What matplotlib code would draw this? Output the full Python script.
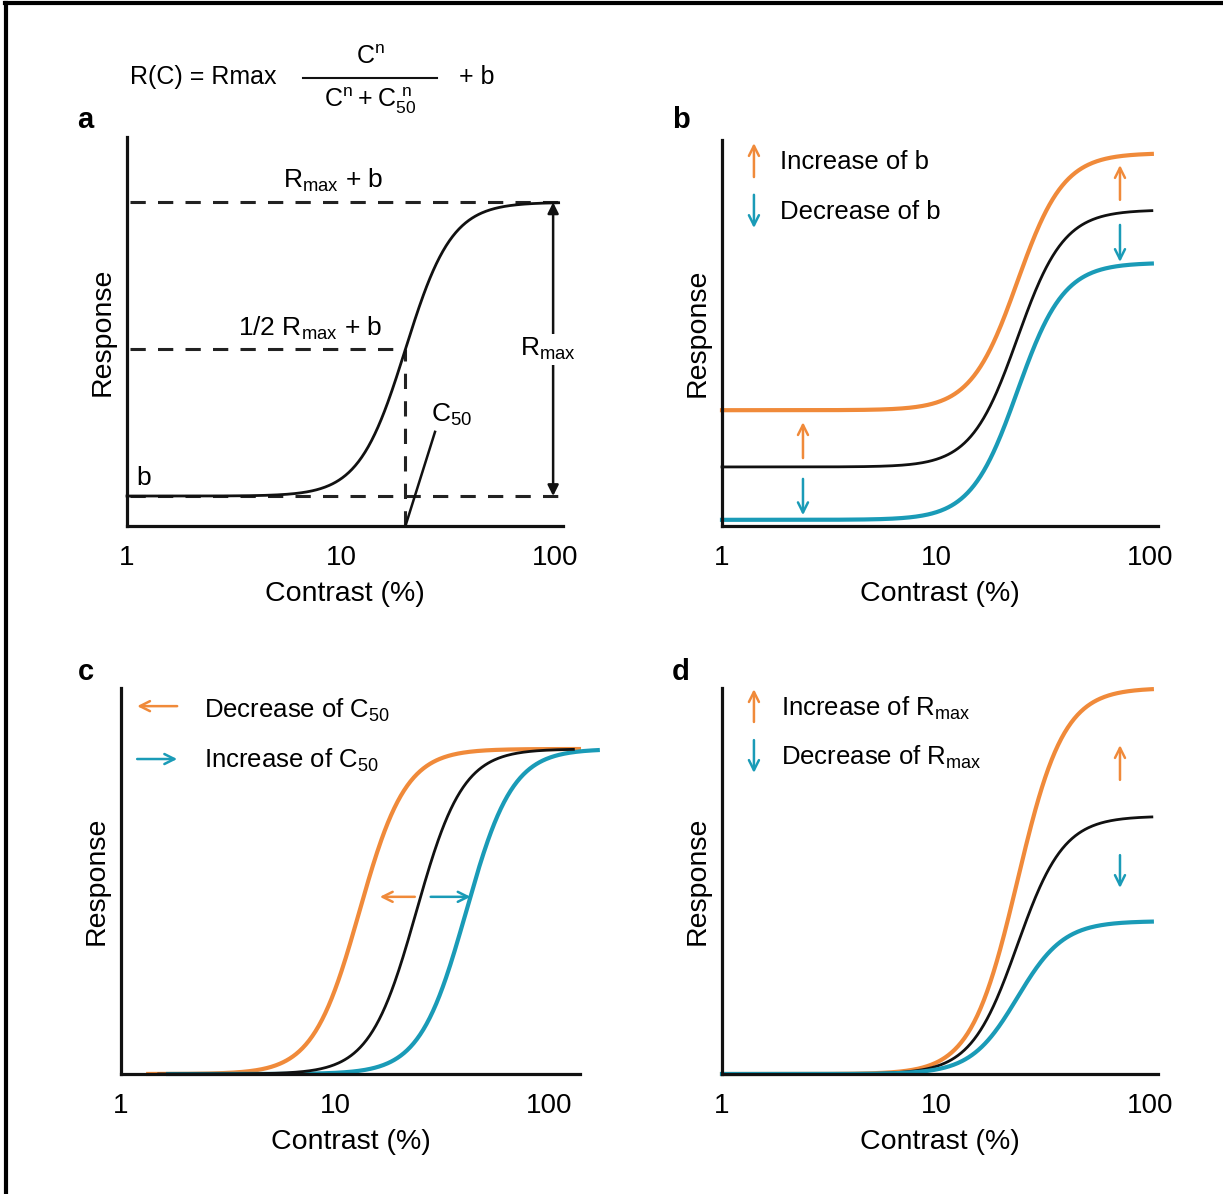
import numpy as np
import matplotlib
matplotlib.use("Agg")
import matplotlib.pyplot as plt
from matplotlib.lines import Line2D

plt.rcParams.update({
    "font.family": ["Liberation Sans", "DejaVu Sans"],
    "mathtext.fontset": "custom", "mathtext.rm": "Liberation Sans",
    "font.size": 18,
})

# ---- values (Naka-Rushton parameters) ----
n_exp = 4
# a: single curve
a_b, a_rmax, a_c50 = 0.077, 0.755, 20.0
a_range = (1.0, 104.0)
# b: baseline changes (increase, control, decrease)
b_base = [0.300, 0.153, 0.016]
b_rmax, b_c50 = 0.666, 24.0
b_range = (1.0, 102.0)
# c: C50 changes (decrease, control, increase)
c_c50 = [13.0, 24.0, 41.0]
c_rmax = 0.842
c_ranges = [(1.34, 138.0), (1.5, 130.0), (1.66, 169.0)]
# d: Rmax changes (increase, control, decrease)
d_rmax = [1.0, 0.668, 0.396]
d_c50 = 24.0
d_range = (1.0, 102.0)

ticks = [1, 10, 100]
tick_labels = ["1", "10", "100"]

ORANGE, CYAN, INK = "#F08A3A", "#1A9BB7", "#111111"
W, H = 1223, 1194
PX_DEC = 214.0  # pixels per decade


def nr(c, rmax, c50, b):
    return rmax * c**n_exp / (c**n_exp + c50**n_exp) + b


def curve(lo, hi):
    return np.logspace(np.log10(lo), np.log10(hi), 400)


fig = plt.figure(figsize=(W / 100, H / 100), dpi=100)


def make_axes(l, t, r, b):
    ax = fig.add_axes([l / W, 1 - b / H, (r - l) / W, (b - t) / H])
    ax.set_xscale("log")
    ax.set_xlim(1, 10 ** ((r - l) / PX_DEC))
    ax.set_ylim(0, 1)
    ax.set_xticks(ticks)
    ax.set_xticklabels(tick_labels)
    ax.xaxis.set_minor_locator(matplotlib.ticker.NullLocator())
    ax.set_yticks([])
    ax.tick_params(axis="x", length=0, pad=14, labelsize=20)
    for side in ["top", "right"]:
        ax.spines[side].set_visible(False)
    for side in ["left", "bottom"]:
        ax.spines[side].set_linewidth(2.3)
        ax.spines[side].set_color(INK)
    ax.set_xlabel("Contrast (%)", fontsize=20.5, labelpad=7)
    ax.set_ylabel("Response", fontsize=20.5, labelpad=8)
    ax.patch.set_alpha(0)
    return ax


def fx(x):
    return x / W


def fy(y):
    return 1 - y / H


def arrow(ax, tail, tip, color, style="->", lw=1.8, ms=18):
    ax.annotate("", xy=tip, xytext=tail,
                arrowprops=dict(arrowstyle=style, color=color, lw=lw,
                                mutation_scale=ms, shrinkA=0, shrinkB=0))


# ---- panel a ----
ax = make_axes(127, 137, 563, 526)
x = curve(*a_range)
ax.plot(x, nr(x, a_rmax, a_c50, a_b), color=INK, lw=2.0, clip_on=False, zorder=3)
dash = dict(color="#222222", lw=2.2, dashes=(5, 4), zorder=2, clip_on=False)
ax.plot([1.03, 105.5], [a_b + a_rmax] * 2, **dash)
ax.plot([1.03, a_c50], [a_b + a_rmax / 2] * 2, **dash)
ax.plot([1.03, 105.5], [a_b] * 2, **dash)
ax.plot([a_c50, a_c50], [0, a_b + a_rmax / 2], **dash)
ax.plot([a_c50, 27.5], [0, 0.242], color=INK, lw=1.8)
arrow(ax, (98, a_b), (98, a_b + a_rmax), INK, style="<|-|>", lw=1.8, ms=16)
ax.text(9.2, 0.889, r"R$_{\mathregular{max}}$ + b", ha="center", va="center", fontsize=19)
ax.text(7.2, 0.509, r"1/2 R$_{\mathregular{max}}$ + b", ha="center", va="center", fontsize=19)
ax.text(1.19, 0.123, "b", ha="center", va="center", fontsize=19)
ax.text(33, 0.285, r"C$_{\mathregular{50}}$", ha="center", va="center", fontsize=19)
ax.text(93, a_b + a_rmax / 2, r"R$_{\mathregular{max}}$", ha="center", va="center",
        fontsize=19, bbox=dict(facecolor="white", edgecolor="none", pad=1.5), zorder=5)

# formula above panel a
fig.text(fx(130), fy(77), "R(C) = Rmax", ha="left", va="center", fontsize=18)
fig.add_artist(Line2D([fx(303), fx(437)], [fy(78), fy(78)], color=INK, lw=1.5))
fig.text(fx(370), fy(57), r"$\mathregular{C^n}$", ha="center", va="center", fontsize=18)
fig.text(fx(370), fy(101), r"$\mathregular{C^n + C_{50}^{\ n}}$", ha="center",
         va="center", fontsize=18)
fig.text(fx(459), fy(77), "+ b", ha="left", va="center", fontsize=18)

# ---- panel b ----
ax = make_axes(722, 140, 1158, 526)
x = curve(*b_range)
for base, col, lw in zip(b_base, [ORANGE, INK, CYAN], [3.0, 2.0, 3.0]):
    ax.plot(x, nr(x, b_rmax, b_c50, base), color=col, lw=lw, clip_on=False)
arrow(ax, (72.4, 0.845), (72.4, 0.935), ORANGE)
arrow(ax, (72.4, 0.780), (72.4, 0.684), CYAN)
arrow(ax, (2.39, 0.176), (2.39, 0.269), ORANGE)
arrow(ax, (2.39, 0.122), (2.39, 0.028), CYAN)
arrow(ax, (1.41, 0.904), (1.41, 0.992), ORANGE)
arrow(ax, (1.41, 0.858), (1.41, 0.772), CYAN)
ax.text(1.87, 0.943, "Increase of b", ha="left", va="center", fontsize=18.5)
ax.text(1.87, 0.813, "Decrease of b", ha="left", va="center", fontsize=18.5)

# ---- panel c ----
ax = make_axes(121, 688, 580, 1074)
for c50, (lo, hi), col, lw in zip(c_c50, c_ranges, [ORANGE, INK, CYAN], [3.0, 2.0, 3.0]):
    x = curve(lo, hi)
    ax.plot(x, nr(x, c_rmax, c50, 0.0), color=col, lw=lw, clip_on=False,
            zorder=3 if col == INK else 2)
arrow(ax, (23.6, 0.459), (16.2, 0.459), ORANGE)
arrow(ax, (28.0, 0.459), (43.0, 0.459), CYAN)
arrow(ax, (1.83, 0.953), (1.19, 0.953), ORANGE)
arrow(ax, (1.19, 0.816), (1.83, 0.816), CYAN)
ax.text(2.44, 0.943, r"Decrease of C$_{\mathregular{50}}$", ha="left", va="center",
        fontsize=18.5)
ax.text(2.44, 0.814, r"Increase of C$_{\mathregular{50}}$", ha="left", va="center",
        fontsize=18.5)

# ---- panel d ----
ax = make_axes(722, 688, 1158, 1074)
x = curve(*d_range)
for rmax, col, lw in zip(d_rmax, [ORANGE, INK, CYAN], [3.0, 2.0, 3.0]):
    ax.plot(x, nr(x, rmax, d_c50, 0.0), color=col, lw=lw, clip_on=False)
arrow(ax, (72.4, 0.762), (72.4, 0.852), ORANGE)
arrow(ax, (72.4, 0.567), (72.4, 0.482), CYAN)
arrow(ax, (1.41, 0.912), (1.41, 0.997), ORANGE)
arrow(ax, (1.41, 0.865), (1.41, 0.780), CYAN)
ax.text(1.89, 0.948, r"Increase of R$_{\mathregular{max}}$", ha="left", va="center",
        fontsize=18.5)
ax.text(1.89, 0.821, r"Decrease of R$_{\mathregular{max}}$", ha="left", va="center",
        fontsize=18.5)

# panel letters
for lab, (px, py) in zip("abcd", [(85, 120), (681, 120), (86, 672), (681, 672)]):
    fig.text(fx(px), fy(py), lab, ha="center", va="center", fontsize=21,
             fontweight="bold")

# outer frame (top and left edges visible)
fig.add_artist(Line2D([fx(5), fx(W)], [fy(3), fy(3)], color="black", lw=3))
fig.add_artist(Line2D([fx(6), fx(6)], [fy(3), fy(H)], color="black", lw=3))

fig.savefig("out.png", dpi=100)
